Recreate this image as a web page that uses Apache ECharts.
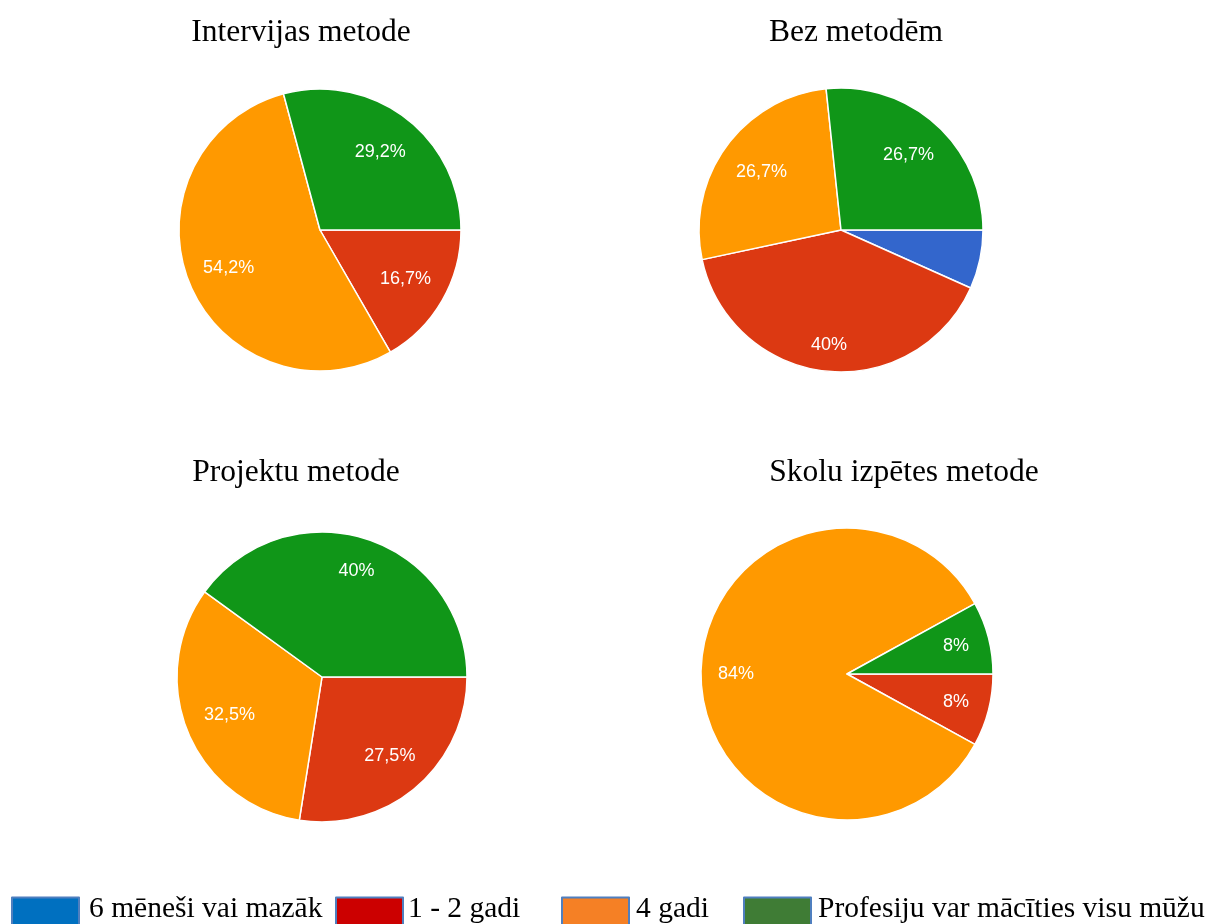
<!DOCTYPE html>
<html>
<head>
<meta charset="utf-8">
<script src="https://cdn.jsdelivr.net/npm/echarts@6/dist/echarts.min.js"></script>
<style>
html,body{margin:0;padding:0;background:#fff;}
#c{width:1216px;height:924px;}
</style>
</head>
<body>
<div id="c"></div>
<script>
const categories = ['6 mēneši vai mazāk', '1 - 2 gadi', '4 gadi', 'Profesiju var mācīties visu mūžu'];
const chartTitles = ['Intervijas metode', 'Bez metodēm', 'Projektu metode', 'Skolu izpētes metode'];
const intervijasValues = [0, 16.7, 54.2, 29.2];
const bezMetodemValues = [6.7, 40, 26.7, 26.7];
const projektuValues = [0, 27.5, 32.5, 40];
const skoluValues = [0, 8, 84, 8];

const sliceColors = ['#3366cc', '#dc3912', '#ff9900', '#109618'];
const legendColors = ['#0070c0', '#cc0000', '#f58025', '#3f7c35'];

// layout: centre, radius, label radius ratio per slice, title anchor
const pies = [
  {values: intervijasValues, center: [320, 230], r: 141, lr: [0.68, 0.68, 0.68, 0.68], title: [301, 17]},
  {values: bezMetodemValues, center: [841, 230], r: 142, lr: [0.69, 0.79, 0.67, 0.69], title: [856, 17]},
  {values: projektuValues, center: [322, 677], r: 145, lr: [0.70, 0.70, 0.67, 0.75], title: [296, 457]},
  {values: skoluValues, center: [847, 674], r: 146, lr: [0.75, 0.75, 0.74, 0.75], title: [904, 457]}
];

function fmt(v) { return String(v).replace('.', ',') + '%'; }

const series = [];
const titles = [];
pies.forEach((p, i) => {
  series.push({
    type: 'pie', center: p.center, radius: [0, p.r], startAngle: 0, clockwise: true,
    silent: true, animation: false, minAngle: 0,
    itemStyle: {borderColor: '#fff', borderWidth: 1.5},
    label: {show: false}, labelLine: {show: false},
    data: categories.map((name, k) => ({name, value: p.values[k], itemStyle: {color: sliceColors[k]}}))
  });
  const ratios = [...new Set(p.lr)];
  ratios.forEach(ratio => {
    const inner = Math.max(0, 2 * ratio * p.r - p.r);
    series.push({
      type: 'pie', center: p.center, radius: [inner, p.r], startAngle: 0, clockwise: true,
      silent: true, animation: false, legendHoverLink: false,
      itemStyle: {color: 'rgba(0,0,0,0)', borderWidth: 0},
      labelLine: {show: false},
      data: categories.map((name, k) => ({
        name: name + ' ', value: p.values[k],
        label: {
          show: p.lr[k] === ratio && p.values[k] >= 7,
          position: 'inside', color: '#fff',
          fontFamily: 'Arial, Liberation Sans, sans-serif', fontSize: 18,
          formatter: (prm) => fmt(prm.value)
        }
      }))
    });
  });
  titles.push({
    text: chartTitles[i], left: p.title[0], top: p.title[1], textAlign: 'center', padding: 0,
    textStyle: {fontFamily: 'Liberation Serif, Times New Roman, serif', fontSize: 31.5, fontWeight: 'normal', color: '#000'}
  });
});

const legendLefts = [11, 335, 561, 743];
const legendTextPad = [5, 0, 2, 2];
const legends = categories.map((name, k) => ({
  left: legendLefts[k], top: 894, padding: 0, itemWidth: 67, itemHeight: 30, itemGap: 0,
  selectedMode: false, icon: 'rect',
  formatter: '{t|{name}}',
  textStyle: {
    color: '#000',
    rich: {t: {fontFamily: 'Liberation Serif, Times New Roman, serif', fontSize: 29.5, color: '#000',
      padding: [0, 0, 7, legendTextPad[k]]}}
  },
  data: [{name: name, itemStyle: {color: legendColors[k], borderColor: '#4f7fbf', borderWidth: 2}}]
}));

const chart = echarts.init(document.getElementById('c'), null, {renderer: 'canvas'});
chart.setOption({
  backgroundColor: '#fff',
  animation: false,
  title: titles,
  legend: legends,
  series: series
});
</script>
</body>
</html>
